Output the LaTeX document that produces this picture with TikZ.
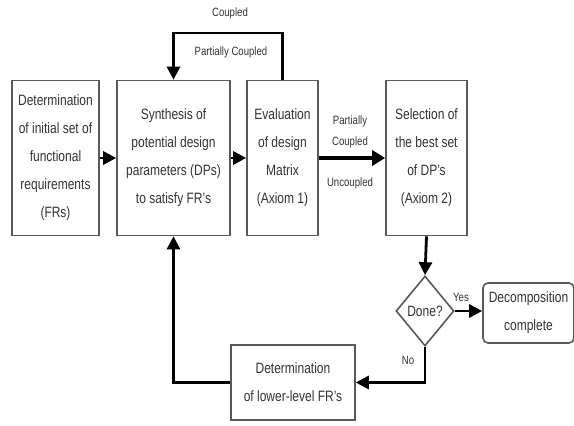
\documentclass[tikz,border=0pt]{standalone}
\usepackage{fontspec}
\setmainfont{Liberation Sans}[FakeStretch=0.8]
\usetikzlibrary{arrows.meta,shapes.geometric}
\begin{document}
\begin{tikzpicture}[x=1pt,y=-1pt,
  box/.style={draw=black!65,line width=1.6pt,fill=white,text=black!80,align=center,
    font=\fontsize{15}{28}\selectfont,inner sep=0pt},
  arr/.style={draw=black,line width=2.8pt,-{Triangle[length=13pt,width=13pt]}},
  lbl/.style={text=black!80,font=\fontsize{12}{21}\selectfont,align=center,inner sep=0pt}]
\useasboundingbox[fill=white] (0,0) rectangle (574,426);
\begin{scope}
\clip (0,0) rectangle (574,426);
\node[box,minimum width=87,minimum height=155] (b1) at (55.5,158) {Determination\\of initial set of\\functional\\requirements\\(FRs)};
\node[box,minimum width=113,minimum height=155] (b2) at (173.5,158) {Synthesis of\\potential design\\parameters (DPs)\\to satisfy FR's};
\node[box,minimum width=71,minimum height=155] (b3) at (282.5,158) {Evaluation\\of design\\Matrix\\(Axiom 1)};
\node[box,minimum width=81,minimum height=155] (b4) at (426.5,158) {Selection of\\the best set\\of DP's\\(Axiom 2)};
\node[box,diamond,minimum width=58,minimum height=70] (dia) at (425,311) {Done?};
\node[box,rounded corners=5pt,minimum width=91,minimum height=60] (b5) at (528.5,313) {Decomposition\\complete};
\node[box,minimum width=124,minimum height=75] (b6) at (293,382.5) {Determination\\of lower-level FR's};

\draw[arr] (b1) -- (b2);
\draw[arr] (b2) -- (b3);
\draw[arr,line width=4.5pt,-{Triangle[length=13pt,width=15pt]}] (b3) -- (b4);
\draw[arr] (b3.north) -- (b3.north |- 0,33) -| (b2.north);
\draw[arr] (b4.south) -- (dia.north);
\draw[arr] (dia.east) -- (dia.east -| b5.west);
\draw[arr] (dia.south) |- (b6.east);
\draw[arr] (b6.west) -| (b2.south);

\node[lbl] (lcoupled) at (230,13) {Coupled};
\node[lbl] (lpc1) at (231,52) {Partially Coupled};
\node[lbl] (lpc2) at (350,132) {Partially\\Coupled};
\node[lbl] (lunc) at (350,183) {Uncoupled};
\node[lbl] (lyes) at (461,297) {Yes};
\node[lbl] (lno) at (408,360) {No};
\end{scope}
\end{tikzpicture}
\end{document}
